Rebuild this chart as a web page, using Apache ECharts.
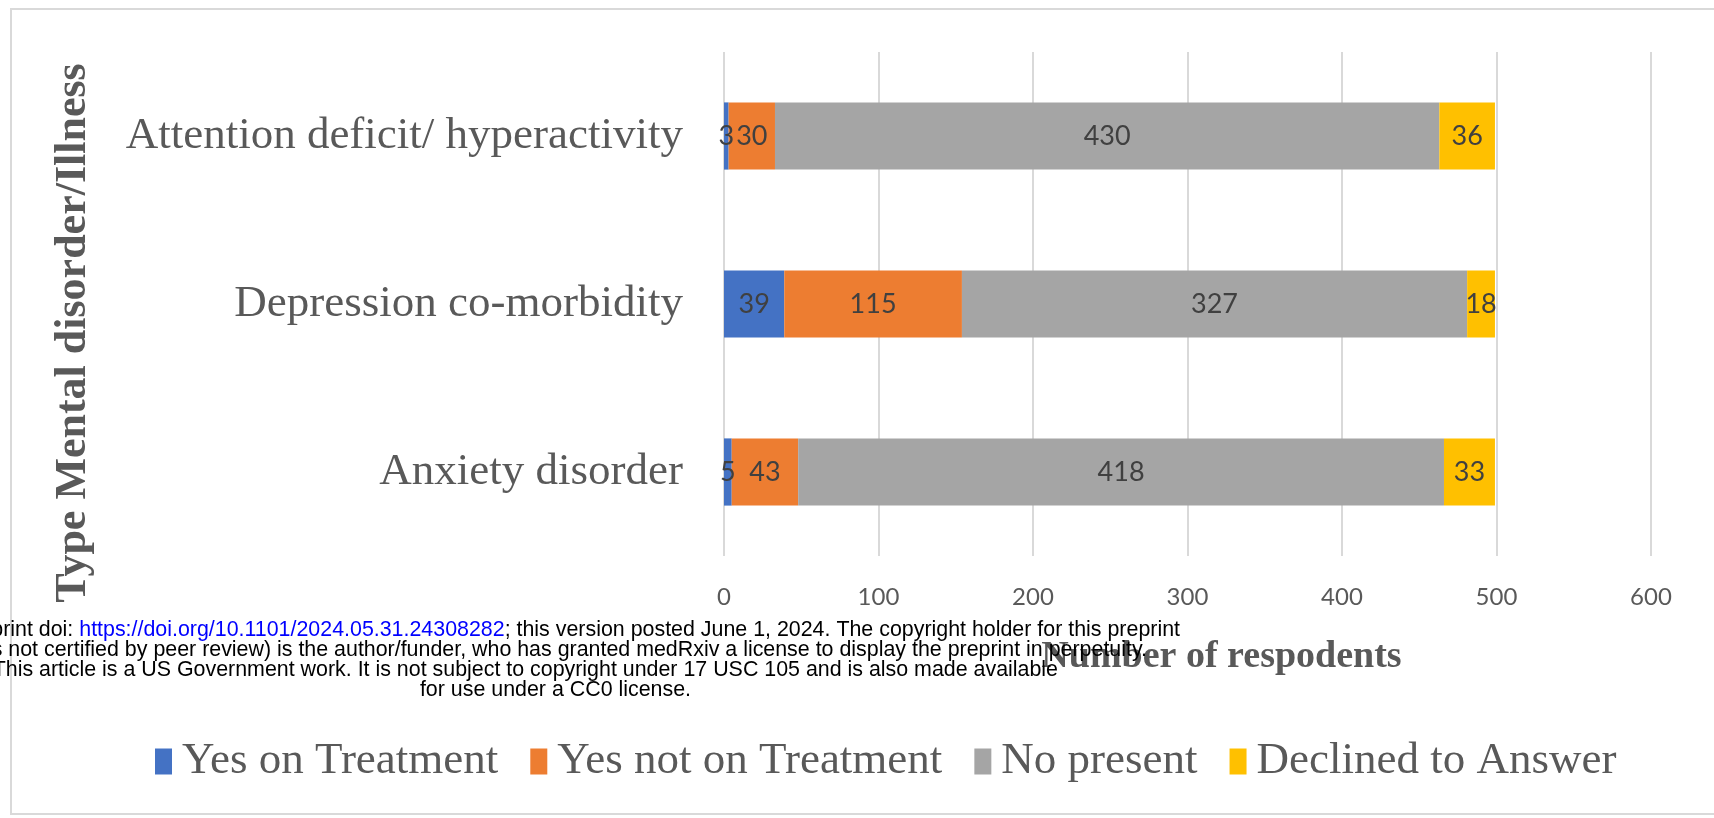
<!DOCTYPE html>
<html>
<head>
<meta charset="utf-8">
<script src="https://cdn.jsdelivr.net/npm/echarts@6/dist/echarts.min.js"></script>
<style>
html,body{margin:0;padding:0;background:#fff;}
#chart{width:1714px;height:818px;}
</style>
</head>
<body>
<div id="chart"></div>
<script>
const categories = ['Anxiety disorder', 'Depression co-morbidity', 'Attention deficit/ hyperactivity'];
const seriesNames = ['Yes on Treatment', 'Yes not on Treatment', 'No present', 'Declined to Answer'];
const yesOnTreatment = [5, 39, 3];
const yesNotOnTreatment = [43, 115, 30];
const noPresent = [418, 327, 430];
const declined = [33, 18, 36];
const xTicks = [0, 100, 200, 300, 400, 500, 600];
const colors = ['#4472C4', '#ED7D31', '#A5A5A5', '#FFC000'];

const footerLink = 'https://doi.org/10.1101/2024.05.31.24308282';
const footerLines = [
  'medRxiv preprint doi: ',
  '(which was not certified by peer review) is the author/funder, who has granted medRxiv a license to display the preprint in perpetuity.',
  'This article is a US Government work. It is not subject to copyright under 17 USC 105 and is also made available',
  'for use under a CC0 license.'
];
const footerLine1Tail = '; this version posted June 1, 2024. The copyright holder for this preprint';

const chart = echarts.init(document.getElementById('chart'));
const values = [yesOnTreatment, yesNotOnTreatment, noPresent, declined];

const labelStyle = {
  show: true,
  position: 'inside',
  color: '#404040',
  fontFamily: 'Lato, "Open Sans", sans-serif',
  fontSize: 27
};

const footerFont = { fontFamily: '"Liberation Sans", Arial, sans-serif', fontSize: 21.4 };
const footerRight = [1180, 1147, 1058, 691];
const footerY = [630, 650, 670, 690];

const graphics = [
  {
    type: 'rect', z: 0, silent: true,
    shape: { x: 11, y: 9, width: 1720, height: 805 },
    style: { fill: 'none', stroke: '#d9d9d9', lineWidth: 2 }
  },
  {
    type: 'text', z: 100, silent: true,
    x: footerRight[0], y: footerY[0],
    style: {
      text: '{a|' + footerLines[0] + '}{b|' + footerLink + '}{a|' + footerLine1Tail + '}',
      align: 'right', verticalAlign: 'middle',
      rich: {
        a: Object.assign({ fill: '#000' }, footerFont),
        b: Object.assign({ fill: '#0000ff' }, footerFont)
      }
    }
  }
];
for (let i = 1; i < 4; i++) {
  graphics.push({
    type: 'text', z: 100, silent: true,
    x: footerRight[i], y: footerY[i],
    style: Object.assign({
      text: footerLines[i], fill: '#000', align: 'right', verticalAlign: 'middle'
    }, footerFont)
  });
}

chart.setOption({
  backgroundColor: '#ffffff',
  animation: false,
  color: colors,
  grid: { left: 724, right: 63, top: 52, bottom: 262, containLabel: false },
  xAxis: {
    type: 'value',
    min: xTicks[0],
    max: xTicks[xTicks.length - 1],
    interval: xTicks[1] - xTicks[0],
    axisLine: { show: false },
    axisTick: { show: false },
    splitLine: { show: true, lineStyle: { color: '#d9d9d9', width: 2 } },
    axisLabel: {
      margin: 29,
      color: '#595959',
      fontFamily: 'Lato, "Open Sans", sans-serif',
      fontSize: 24
    },
    name: 'Number of respodents',
    nameLocation: 'middle',
    nameGap: 82,
    nameTextStyle: {
      color: '#595959',
      fontFamily: '"Liberation Serif", "Times New Roman", serif',
      fontWeight: 'bold',
      fontSize: 38,
      padding: [0, 0, 0, 68]
    }
  },
  yAxis: {
    type: 'category',
    data: categories,
    axisLine: { show: false },
    axisTick: { show: false },
    splitLine: { show: false },
    axisLabel: {
      margin: 41,
      color: '#595959',
      fontFamily: '"Liberation Serif", "Times New Roman", serif',
      fontSize: 45
    },
    name: 'Type Mental disorder/Illness',
    nameLocation: 'middle',
    nameGap: 628,
    nameTextStyle: {
      color: '#595959',
      fontFamily: '"Liberation Serif", "Times New Roman", serif',
      fontWeight: 'bold',
      fontSize: 44,
      padding: [0, 58, 0, 0]
    }
  },
  legend: {
    data: seriesNames,
    left: 150,
    top: 734,
    itemWidth: 17,
    itemHeight: 26,
    itemGap: 32,
    icon: 'rect',
    textStyle: {
      color: '#595959',
      fontFamily: '"Liberation Serif", "Times New Roman", serif',
      fontSize: 45,
      padding: [0, 0, 0, 5]
    }
  },
  graphic: graphics,
  series: seriesNames.map((name, i) => ({
    name: name,
    type: 'bar',
    stack: 'total',
    barWidth: '40%',
    data: values[i],
    itemStyle: { color: colors[i] },
    label: labelStyle
  }))
});
</script>
</body>
</html>
